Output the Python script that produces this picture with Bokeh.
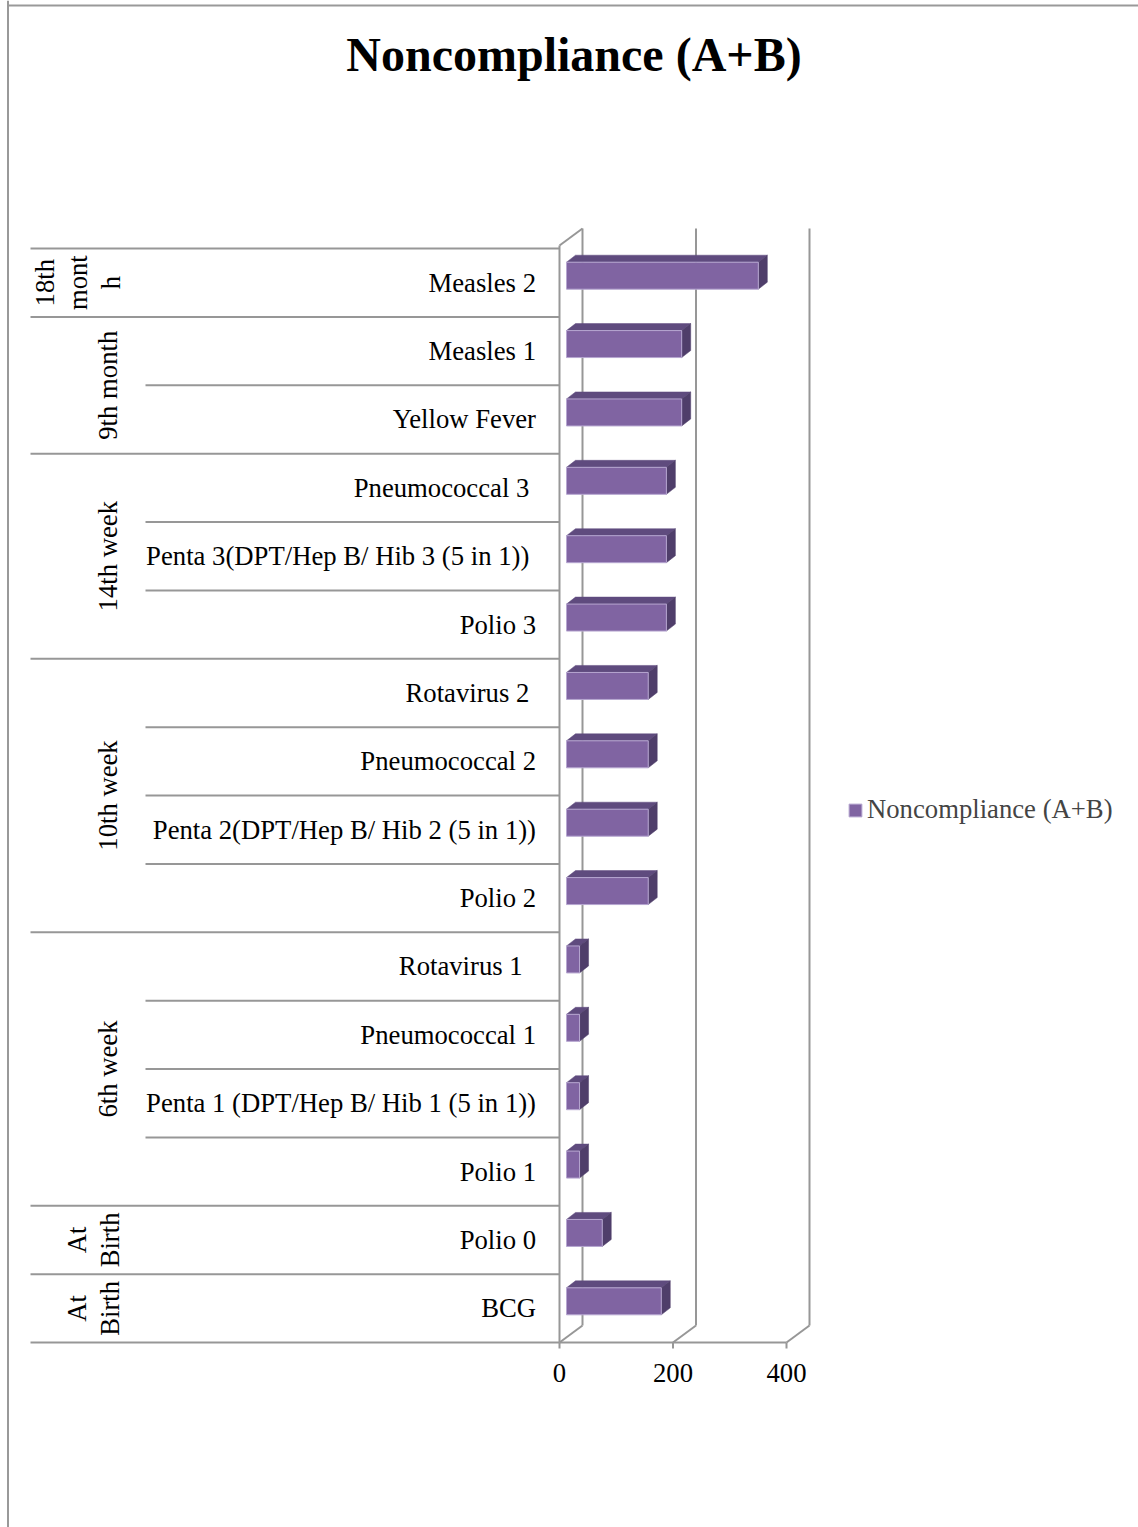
import numpy as np
from bokeh.plotting import figure
from bokeh.models import Range1d, Legend, LegendItem
from bokeh.core.properties import value
from bokeh.embed import file_html
from bokeh.resources import INLINE

# ---------------- data ----------------
title = "Noncompliance (A+B)"
series_name = "Noncompliance (A+B)"

# categories listed from bottom to top (as the chart plots them)
vaccines = [
    "BCG",
    "Polio 0",
    "Polio 1",
    "Penta 1 (DPT/Hep B/ Hib 1 (5 in 1))",
    "Pneumococcal 1",
    "Rotavirus  1 ",
    "Polio 2",
    "Penta 2(DPT/Hep B/ Hib 2 (5 in 1))",
    "Pneumococcal 2",
    "Rotavirus  2",
    "Polio 3",
    "Penta 3(DPT/Hep B/ Hib 3 (5 in 1)) ",
    "Pneumococcal 3 ",
    "Yellow Fever",
    "Measles 1",
    "Measles 2",
]
values = [167, 63, 23, 23, 23, 23, 144, 144, 144, 144, 176, 176, 176, 203, 203, 338]

groups = ["At Birth", "At Birth", "6th week", "10th week", "14th week", "9th month", "18th month"]
group_sizes = [1, 1, 4, 4, 3, 2, 1]
# how the narrow category column wraps the long group names
group_wrapped = {"At Birth": "At\nBirth", "18th month": "18th\nmont\nh"}

xticks = [0, 200, 400]

# ---------------- layout ----------------
W, H = 1138, 1527
X0, KX = 559.0, 0.5675      # pixel of value 0, pixels per unit
Y0, KY = 1342.0, 68.375     # pixel of row 0, pixels per row

def X(px):
    return (px - X0) / KX

def Y(py):
    return (Y0 - py) / KY

FONT = value("Liberation Serif")
FS = "26.7px"
GRID = "#979797"

p = figure(width=W, height=H, x_range=Range1d(X(0), X(W)), y_range=Range1d(Y(H), Y(0)),
           output_backend="svg", toolbar_location=None, min_border=0,
           x_axis_location=None, y_axis_location=None)
p.grid.visible = False
p.outline_line_color = None
p.background_fill_color = "white"
p.border_fill_color = "white"

# chart-area border (top and left visible)
p.segment(x0=[X(7.5), X(6.5)], y0=[Y(0), Y(5)], x1=[X(7.5), X(W)], y1=[Y(H), Y(5)],
          line_color="#999999", line_width=2)

n = len(values)
DX, DY = 23 / KX, 17 / KY          # depth of the 3-D box
TOP = n + 3 / KY                    # top of the walls

# back wall vertical gridlines
p.segment(x0=[t + DX for t in xticks], y0=[DY] * len(xticks),
          x1=[t + DX for t in xticks], y1=[TOP + DY] * len(xticks),
          line_color=GRID, line_width=2)
# floor diagonals
p.segment(x0=xticks, y0=[0] * len(xticks), x1=[t + DX for t in xticks], y1=[DY] * len(xticks),
          line_color=GRID, line_width=2)
# left wall: front vertical and top diagonal
p.segment(x0=[0, 0], y0=[0, TOP], x1=[0, DX], y1=[TOP, TOP + DY], line_color=GRID, line_width=2)
# front bottom axis line + ticks
p.segment(x0=[0], y0=[0], x1=[xticks[-1]], y1=[0], line_color=GRID, line_width=2)
p.segment(x0=xticks, y0=[0] * len(xticks), x1=xticks, y1=[-6 / KY] * len(xticks),
          line_color=GRID, line_width=2)

# category axis lines
bounds = np.cumsum([0] + group_sizes)
lx0, ly = [], []
for b in range(n + 1):
    lx0.append(X(30) if b in bounds else X(145))
    ly.append(b)
p.segment(x0=lx0, y0=ly, x1=[0] * len(ly), y1=ly, line_color=GRID, line_width=2)

# ---------------- 3-D bars ----------------
bar_h = 27 / KY
fx, fy = 7 / KX, 7 / KY       # front face offset into the box
bx, by = 9 / KX, 7 / KY       # bar depth
front_x, front_y, top_x, top_y, side_x, side_y = [], [], [], [], [], []
for i, v in enumerate(values):
    yc = i + 0.5 + fy
    yb, yt = yc - bar_h / 2, yc + bar_h / 2
    x0, x1 = fx, v + fx
    front_x.append([x0, x1, x1, x0]); front_y.append([yb, yb, yt, yt])
    top_x.append([x0, x1, x1 + bx, x0 + bx]); top_y.append([yt, yt, yt + by, yt + by])
    side_x.append([x1, x1 + bx, x1 + bx, x1]); side_y.append([yb, yb + by, yt + by, yt])

p.patches(top_x, top_y, fill_color="#5F4B7E", line_color="#5F4B7E", line_width=0.5)
p.patches(side_x, side_y, fill_color="#4F3E6A", line_color="#4F3E6A", line_width=0.5)
front = p.patches(front_x, front_y, fill_color="#8064A2", line_color="#B6A6D0", line_width=1)

# ---------------- texts ----------------
# vaccine labels (right aligned; trailing spaces keep their width)
space_px = 0.25 * 26.7
lab_x = [X(535.5 - space_px * (len(s) - len(s.rstrip()))) for s in vaccines]
p.text(x=lab_x, y=[i + 0.5 for i in range(n)], text=[s.rstrip() for s in vaccines],
       text_font=FONT, text_font_size=FS, text_align="right", text_baseline="middle",
       text_color="black")

# group labels (rotated)
gx, gy, gt = [], [], []
for g, lo, hi in zip(groups, bounds[:-1], bounds[1:]):
    t = group_wrapped.get(g, g)
    nl = t.count("\n") + 1
    gx.append(X(107.5 - 15 * (nl - 1)))
    gy.append((lo + hi) / 2)
    gt.append(t)
p.text(x=gx, y=gy, text=gt, angle=np.pi / 2, text_font=FONT, text_font_size=FS,
       text_align="center", text_baseline="middle", text_line_height=1.1, text_color="black")

# x tick labels
p.text(x=xticks, y=[Y(1372)] * len(xticks), text=[str(t) for t in xticks],
       text_font=FONT, text_font_size=FS, text_align="center", text_baseline="alphabetic",
       text_color="black")

# title
p.text(x=[X(573.5)], y=[Y(54)], text=[title], text_font=FONT, text_font_size="48px",
       text_font_style="bold", text_align="center", text_baseline="alphabetic", text_color="black")

# legend
legend = Legend(items=[LegendItem(label=series_name, renderers=[front])],
                location=(847, H - 825), padding=0, margin=0, spacing=0,
                glyph_width=16, glyph_height=16, label_standoff=4,
                label_text_font="Liberation Serif", label_text_font_size=FS,
                border_line_color=None, background_fill_alpha=0)
p.add_layout(legend)

open("out.html", "w").write(file_html(p, INLINE))
